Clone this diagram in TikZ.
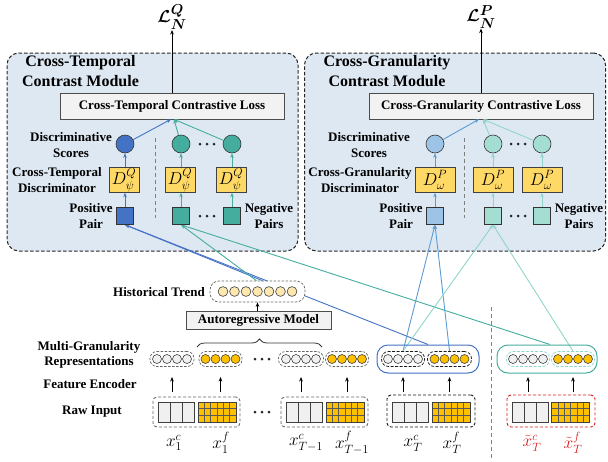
\documentclass[tikz,border=0pt]{standalone}
\usepackage{amsmath,amssymb,bm}
\usepackage{fontspec}
\setmainfont{Liberation Serif}
\usetikzlibrary{arrows.meta,decorations.pathreplacing,calc}
\definecolor{modfill}{HTML}{DEE8F3}
\definecolor{boxgray}{HTML}{F2F2F2}
\definecolor{cellgray}{HTML}{F0F0F0}
\definecolor{dyellow}{HTML}{FFD966}
\definecolor{orangec}{HTML}{FFC000}
\definecolor{trendc}{HTML}{FFE8AE}
\definecolor{cblue}{HTML}{4472C4}
\definecolor{cteal}{HTML}{45AD9E}
\definecolor{rblue}{HTML}{5B9BD5}
\definecolor{lbluef}{HTML}{9DC3E6}
\definecolor{ltealf}{HTML}{A4DDD2}
\definecolor{lteal}{HTML}{8FD5C9}
\definecolor{redc}{HTML}{D81E1E}
\pgfdeclarelayer{bgl}
\pgfdeclarelayer{mid}
\pgfsetlayers{bgl,mid,main}
\newcommand\pillc[5]{%
  \node[pill, minimum width=#3pt, #5] (#1) at (#2,359) {};
  \foreach \k in {-1.5,-0.5,0.5,1.5}
    \draw[draw=black!75, fill=#4, line width=0.6pt] (#2+\k*10,359) circle (4.5pt);
}
\newcommand\rawgrid[2]{%
  \draw[line width=0.8pt, draw=black!75, fill=cellgray] (#1-18,402) rectangle (#1+18,422);
  \draw[line width=0.8pt, black!75] (#1-6,402) -- (#1-6,422) (#1+6,402) -- (#1+6,422);
  \fill[orangec] (#2-19,402) rectangle (#2+19,422);
  \foreach \i in {1,...,5} \draw[black!65, line width=0.4pt] (#2-19+\i*38/6,402) -- (#2-19+\i*38/6,422);
  \foreach \j in {1,2} \draw[black!65, line width=0.4pt] (#2-19,402+\j*20/3) -- (#2+19,402+\j*20/3);
  \draw[line width=0.8pt, black!75] (#2-19,402) rectangle (#2+19,422);
}
\newcommand\threedots[2]{%
  \foreach \k in {-1,0,1} \fill[black!85] (#1+\k*7,#2) circle (1.5pt);
}
\begin{document}
\begin{tikzpicture}[x=1pt,y=-1pt,
  lbl/.style={font=\fontsize{13}{15.5}\selectfont\bfseries, align=center, inner sep=0},
  ttl/.style={font=\fontsize{16}{20}\selectfont\bfseries, align=center, inner sep=0},
  module/.style={draw=black!85, dash pattern=on 3.5pt off 2pt, line width=1pt, rounded corners=12pt, fill=modfill},
  lossbox/.style={draw=black!70, fill=boxgray, minimum width=224pt, minimum height=26pt, font=\fontsize{13}{15}\selectfont\bfseries, line width=0.6pt, inner sep=0},
  dbox/.style={draw=black!75, fill=dyellow, minimum height=25pt, inner sep=0, line width=0.6pt, font=\fontsize{16.5}{18}\selectfont},
  sc/.style={circle, draw=black!80, minimum size=18pt, inner sep=0, line width=0.6pt},
  sq/.style={draw=black!80, minimum size=17pt, inner sep=0, line width=0.6pt},
  arr/.style={-{Stealth[length=4.5pt,width=3.6pt]}, line width=0.9pt},
  sep/.style={draw=black!50, dash pattern=on 4pt off 3pt, line width=0.8pt},
  pill/.style={draw=black!60, dash pattern=on 2.5pt off 1.5pt, rounded corners=7pt, minimum height=15pt, inner sep=0, line width=0.7pt},
  rawbox/.style={dash pattern=on 3pt off 2pt, rounded corners=4pt, minimum height=30pt, inner sep=0, line width=0.9pt},
  xl/.style={font=\fontsize{18}{20}\selectfont, inner sep=0},
  toplbl/.style={font=\fontsize{19}{22}\selectfont, inner sep=0},
]
\useasboundingbox (0,0) rectangle (608,461);

% ---------- module frames ----------
\begin{pgfonlayer}{bgl}
\node[module, minimum width=291pt, minimum height=198pt] (modL) at (152.5,152) {};
\node[module, minimum width=301pt, minimum height=198pt] (modR) at (455,152) {};
\end{pgfonlayer}

\node[ttl] (ttlL) at (80.5,71) {Cross-Temporal\\Contrast Module};
\node[ttl] (ttlR) at (387,71) {Cross-Granularity\\Contrast Module};

% ---------- loss boxes and top labels ----------
\node[lossbox] (lossL) at (172,106) {Cross-Temporal Contrastive Loss};
\node[lossbox] (lossR) at (481,106) {Cross-Granularity Contrastive Loss};
\node[toplbl] (LQ) at (172,17) {$\bm{\mathcal{L}}_{\bm{N}}^{\bm{Q}}$};
\node[toplbl] (LP) at (481,17) {$\bm{\mathcal{L}}_{\bm{N}}^{\bm{P}}$};
\draw[arr, black] (lossL.north) -- (LQ.south);
\draw[arr, black] (lossR.north) -- (LP.south);

% ---------- left module internals ----------
\node[sq, fill=cblue] (posL) at (125,216) {};
\node[dbox, minimum width=30pt] (dL0) at (124,180) {$D_{\psi}^{Q}$};
\node[sc, fill=cblue] (sL0) at (125,144) {};
\node[sq, fill=cteal] (negL1) at (181,216) {};
\node[dbox, minimum width=30pt] (dL1) at (180,180) {$D_{\psi}^{Q}$};
\node[sc, fill=cteal] (sL1) at (181,144) {};
\node[sq, fill=cteal] (negL2) at (232,216) {};
\node[dbox, minimum width=30pt] (dL2) at (231,180) {$D_{\psi}^{Q}$};
\node[sc, fill=cteal] (sL2) at (232,144) {};
\threedots{207}{144}
\threedots{207}{216}
\draw[sep] (155,138) -- (155,218);
\draw[arr, cblue] (posL) -- (posL |- dL0.south);
\draw[arr, cblue] (sL0 |- dL0.north) -- (sL0);
\draw[arr, cteal] (negL1) -- (negL1 |- dL1.south);
\draw[arr, cteal] (sL1 |- dL1.north) -- (sL1);
\draw[arr, cteal] (negL2) -- (negL2 |- dL2.south);
\draw[arr, cteal] (sL2 |- dL2.north) -- (sL2);
\draw[arr, cblue] (sL0) -- ([xshift=-1pt]lossL.south);
\draw[arr, cteal] (sL1) -- ([xshift=2pt]lossL.south);
\draw[arr, cteal] (sL2) -- ([xshift=2pt]lossL.south);
\node[lbl] (lDS) at (71,145) {Discriminative\\Scores};
\node[lbl] (lCTD) at (57,180) {Cross-Temporal\\Discriminator};
\node[lbl] (lPP) at (91,216) {Positive\\Pair};
\node[lbl] (lNP) at (269,216) {Negative\\Pairs};

% ---------- right module internals ----------
\node[sq, fill=lbluef] (posR) at (435,216) {};
\node[dbox, minimum width=40pt] (dR0) at (435,180) {$D_{\omega}^{P}$};
\node[sc, fill=lbluef] (sR0) at (435,144) {};
\node[sq, fill=ltealf] (negR1) at (493,216) {};
\node[dbox, minimum width=40pt] (dR1) at (493,180) {$D_{\omega}^{P}$};
\node[sc, fill=ltealf] (sR1) at (493,144) {};
\node[sq, fill=ltealf] (negR2) at (542,216) {};
\node[dbox, minimum width=40pt] (dR2) at (542,180) {$D_{\omega}^{P}$};
\node[sc, fill=ltealf] (sR2) at (542,144) {};
\threedots{518}{144}
\threedots{518}{216}
\draw[sep] (464,138) -- (464,218);
\draw[arr, rblue] (posR) -- (dR0);
\draw[arr, rblue] (dR0) -- (sR0);
\draw[arr, lteal] (negR1) -- (dR1);
\draw[arr, lteal] (dR1) -- (sR1);
\draw[arr, lteal] (negR2) -- (dR2);
\draw[arr, lteal] (dR2) -- (sR2);
\draw[arr, rblue] (sR0) -- ([xshift=-2pt]lossR.south);
\draw[arr, lteal] (sR1) -- ([xshift=2pt]lossR.south);
\draw[arr, lteal] (sR2) -- ([xshift=2pt]lossR.south);
\node[lbl] (rDS) at (369,145) {Discriminative\\Scores};
\node[lbl] (rCGD) at (360,180) {Cross-Granularity\\Discriminator};
\node[lbl] (rPP) at (401,216) {Positive\\Pair};
\node[lbl] (rNP) at (579,216) {Negative\\Pairs};

% ---------- historical trend / AR model ----------
\node[pill, minimum width=95pt, minimum height=21pt, rounded corners=9pt, fill=white] (trend) at (257.5,291.5) {};
\foreach \k in {-3,...,3}
  \draw[draw=black!75, fill=trendc, line width=0.6pt] (257.5+\k*11.5,291.5) circle (4.9pt);
\node[lbl, anchor=east] (lHT) at (205,292) {Historical Trend};
\node[draw=black!70, fill=boxgray, minimum width=145pt, minimum height=18pt, inner sep=0, line width=0.8pt, font=\fontsize{13}{15}\selectfont\bfseries] (ar) at (258.5,320) {Autoregressive Model};
\draw[arr, black] (ar.north -| trend.south) -- (trend.south);
\draw[decorate, decoration={brace, amplitude=8pt}, black!80, line width=0.8pt] (197,347) -- (322,347);

% ---------- multi-granularity representations ----------
\pillc{p1c}{172}{44}{cellgray}{}
\pillc{p1f}{220.5}{43}{orangec}{}
\threedots{262}{359}
\pillc{pMc}{301}{45}{cellgray}{}
\pillc{pMf}{347}{43}{orangec}{}
\node[draw=cblue, line width=1pt, rounded corners=11pt, minimum width=102pt, minimum height=28pt] (Tbox) at (428,359) {};
\pillc{pTc}{403}{43}{cellgray}{draw=black!90, dash pattern=on 3pt off 1.5pt}
\pillc{pTf}{449.5}{44}{orangec}{draw=black!90, dash pattern=on 3pt off 1.5pt}
\node[draw=cteal, line width=1pt, rounded corners=11pt, minimum width=100pt, minimum height=28pt] (tbox) at (547,359) {};
\pillc{ptc}{528}{43}{cellgray}{draw=lteal, dash pattern=on 3pt off 1.5pt}
\pillc{ptf}{573}{43}{orangec}{draw=lteal, dash pattern=on 3pt off 1.5pt}
\draw[sep] (491,307) -- (491,461);

% ---------- feature encoder arrows ----------
\foreach \n in {p1c,p1f,pMc,pMf,pTc,pTf,ptc,ptf}
  \draw[arr, black] (\n.south |- 0,392) -- (\n.south |- 0,377);

% ---------- raw input ----------
\node[rawbox, draw=black!60, minimum width=87pt] (r1) at (196.5,412) {};
\rawgrid{176}{217}
\threedots{262}{412}
\node[rawbox, draw=black!60, minimum width=87pt] (rM) at (324.5,412) {};
\rawgrid{304}{345}
\node[rawbox, draw=black!90, minimum width=88pt, minimum height=32pt] (rT) at (431,411) {};
\rawgrid{410.5}{451}
\node[rawbox, draw=redc, minimum width=88pt, minimum height=32pt] (rt) at (551,411) {};
\rawgrid{530.5}{570.5}

\node[xl] (x1c) at (174,443) {$x_{1}^{c}$};
\node[xl] (x1f) at (221,443) {$x_{1}^{f}$};
\node[xl] (xMc) at (306,443) {$x_{T-1}^{c}$};
\node[xl] (xMf) at (352,443) {$x_{T-1}^{f}$};
\node[xl] (xTc) at (413,443) {$x_{T}^{c}$};
\node[xl] (xTf) at (452,443) {$x_{T}^{f}$};
\node[xl, text=redc] (xtc) at (532,443) {$\tilde{x}_{T}^{c}$};
\node[xl, text=redc] (xtf) at (573,443) {$\tilde{x}_{T}^{f}$};

\node[lbl] (lMGR) at (89,355) {Multi-Granularity\\Representations};
\node[lbl] (lFE) at (90,384) {Feature Encoder};
\node[lbl] (lRI) at (92,412) {Raw Input};

% ---------- long connectors ----------
\begin{pgfonlayer}{mid}
\draw[arr, cblue] (Tbox.north) -- (posL.south);
\draw[arr, cblue] ([xshift=5pt]trend.north) -- (posL.south);
\draw[arr, cteal] ([xshift=-1pt]trend.north) -- (negL1.south);
\draw[arr, cteal] ([xshift=3pt]tbox.north) -- (negL1.south);
\draw[arr, rblue] (pTc.north) -- (posR.south);
\draw[arr, rblue] (pTf.north) -- (posR.south);
\draw[arr, lteal] (pTc.north) -- (negR1.south);
\draw[arr, lteal] (ptf.north) -- (negR1.south);
\end{pgfonlayer}
\end{tikzpicture}
\end{document}
